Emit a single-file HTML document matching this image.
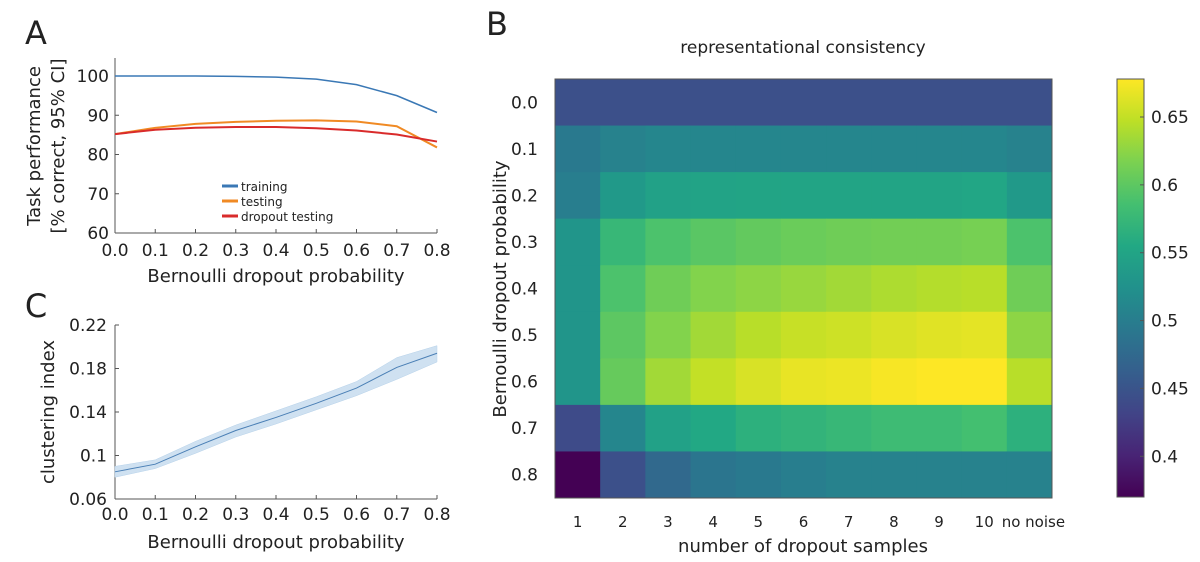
<!DOCTYPE html>
<html><head><meta charset="utf-8"><style>
body{margin:0;background:#fff;}
svg{display:block;font-family:"DejaVu Sans","Liberation Sans",sans-serif;}
</style></head><body>
<svg id="fig" width="1200" height="562" viewBox="0 0 1200 562"></svg>
<script>
const probs=[0,0.1,0.2,0.3,0.4,0.5,0.6,0.7,0.8];
const probLabels=["0.0","0.1","0.2","0.3","0.4","0.5","0.6","0.7","0.8"];
const trainVals=[100,100,100,99.9,99.7,99.2,97.8,95,90.7];
const testVals=[85.2,86.8,87.8,88.3,88.6,88.7,88.4,87.2,81.8];
const dropVals=[85.2,86.3,86.8,87.0,87.0,86.7,86.1,85.1,83.3];
const perfTicks=[60,70,80,90,100];
const clustVals=[0.085,0.092,0.108,0.123,0.135,0.148,0.162,0.181,0.194];
const clustLo=[0.080,0.088,0.102,0.117,0.129,0.142,0.155,0.170,0.186];
const clustHi=[0.090,0.096,0.113,0.128,0.141,0.154,0.168,0.190,0.201];
const clustTicks=[0.06,0.1,0.14,0.18,0.22];
const clustTickLabels=["0.06","0.1","0.14","0.18","0.22"];
const hmCols=["1","2","3","4","5","6","7","8","9","10","no noise"];
const hmRows=["0.0","0.1","0.2","0.3","0.4","0.5","0.6","0.7","0.8"];
const hmVals=[
[0.445,0.445,0.445,0.445,0.445,0.445,0.445,0.445,0.445,0.445,0.445],
[0.495,0.505,0.51,0.51,0.51,0.51,0.51,0.51,0.51,0.51,0.505],
[0.50,0.535,0.545,0.548,0.55,0.55,0.55,0.55,0.55,0.552,0.535],
[0.53,0.575,0.59,0.598,0.603,0.607,0.61,0.612,0.612,0.614,0.59],
[0.53,0.59,0.61,0.62,0.625,0.63,0.635,0.64,0.643,0.645,0.61],
[0.53,0.60,0.62,0.635,0.645,0.652,0.655,0.66,0.664,0.666,0.625],
[0.53,0.605,0.635,0.65,0.66,0.668,0.67,0.675,0.678,0.678,0.645],
[0.44,0.51,0.545,0.555,0.565,0.57,0.575,0.58,0.58,0.585,0.565],
[0.37,0.445,0.475,0.49,0.495,0.50,0.505,0.505,0.505,0.505,0.505]];
const cbTicks=[0.4,0.45,0.5,0.55,0.6,0.65];
const cbTickLabels=["0.4","0.45","0.5","0.55","0.6","0.65"];
const cMin=0.37,cMax=0.678;

const NS="http://www.w3.org/2000/svg";
const svg=document.getElementById('fig');
function el(tag,attrs,parent){const e=document.createElementNS(NS,tag);for(const k in attrs)e.setAttribute(k,attrs[k]);(parent||svg).appendChild(e);return e;}
function txt(s,x,y,size,anchor,parent,extra){const t=el('text',Object.assign({x:x,y:y,'font-size':size,'text-anchor':anchor||'middle',fill:'#222'},extra||{}),parent);t.textContent=s;return t;}
const VIR=[[68,1,84],[72,36,117],[65,68,135],[53,95,141],[42,120,142],[33,145,140],[34,168,132],[68,191,112],[122,209,81],[189,223,38],[253,231,37]];
function viridis(t){t=Math.max(0,Math.min(1,t))*10;const i=Math.min(9,Math.floor(t)),f=t-i;const a=VIR[i],b=VIR[i+1];return `rgb(${a.map((v,k)=>Math.round(v+(b[k]-v)*f)).join(',')})`;}

// ---------- Panel A ----------
const ax0=115,ax1=437;
const xA=p=>ax0+(p/0.8)*(ax1-ax0);
const yA=v=>233-(v-60)/40*(233-76);
const gA=el('g',{});

txt('A',36,44,32,'middle',gA,{});
el('line',{x1:ax0,y1:58,x2:ax0,y2:233,stroke:'#555','stroke-width':1},gA);
el('line',{x1:ax0,y1:233,x2:ax1,y2:233,stroke:'#555','stroke-width':1},gA);
perfTicks.forEach(v=>{el('line',{x1:ax0,y1:yA(v),x2:ax0+4,y2:yA(v),stroke:'#555'},gA);
 const t=txt(String(v),ax0-6,yA(v)+6,17,'end',gA);});
probs.forEach((p,i)=>{el('line',{x1:xA(p),y1:233,x2:xA(p),y2:229,stroke:'#555'},gA);
 const t=txt(probLabels[i],xA(p),256,17,'middle',gA);});
txt('Bernoulli dropout probability',276,282,18,'middle',gA,{});
txt('Task performance',40,146,18,'middle',gA,{transform:'rotate(-90 40 146)',});
txt('[% correct, 95% CI]',64,146,18,'middle',gA,{transform:'rotate(-90 64 146)',});
function line(vals,col,name,w){const p=el('polyline',{points:vals.map((v,i)=>xA(probs[i])+','+yA(v)).join(' '),fill:'none',stroke:col,'stroke-width':w||1.5},gA);
 }
line(trainVals,'#3a78b5','training-line');
line(testVals,'#f08a24','testing-line',2);
line(dropVals,'#d92b2b','dropout-testing-line',2);
const leg=[['training','#3a78b5'],['testing','#f08a24'],['dropout testing','#d92b2b']];
leg.forEach((l,i)=>{const g=el('g',{},gA);
 el('line',{x1:222,y1:186+i*15,x2:238,y2:186+i*15,stroke:l[1],'stroke-width':3},g);txt(l[0],241,191+i*15,12,'start',g);});

// ---------- Panel C ----------
const yC=v=>499-(v-0.06)/0.16*(499-325);
const gC=el('g',{});

txt('C',36,317,32,'middle',gC,{});
el('line',{x1:ax0,y1:325,x2:ax0,y2:499,stroke:'#555'},gC);
el('line',{x1:ax0,y1:499,x2:ax1,y2:499,stroke:'#555'},gC);
clustTicks.forEach((v,i)=>{el('line',{x1:ax0,y1:yC(v),x2:ax0+4,y2:yC(v),stroke:'#555'},gC);
 const t=txt(clustTickLabels[i],ax0-8,yC(v)+6,17,'end',gC);});
probs.forEach((p,i)=>{el('line',{x1:xA(p),y1:499,x2:xA(p),y2:495,stroke:'#555'},gC);
 const t=txt(probLabels[i],xA(p),520,17,'middle',gC);});
txt('Bernoulli dropout probability',276,548,18,'middle',gC,{});
txt('clustering index',54,412,18,'middle',gC,{transform:'rotate(-90 54 412)',});
const band=el('polygon',{points:clustHi.map((v,i)=>xA(probs[i])+','+yC(v)).concat(clustLo.map((v,i)=>xA(probs[i])+','+yC(v)).reverse()).join(' '),fill:'#cfe1f1',stroke:'#b7d2ea','stroke-width':0.5},gC);

const cl=el('polyline',{points:clustVals.map((v,i)=>xA(probs[i])+','+yC(v)).join(' '),fill:'none',stroke:'#4a7fb5','stroke-width':1},gC);


// ---------- Panel B ----------
const hx0=555,hx1=1052,hy0=79,hy1=498;
const cw=(hx1-hx0)/hmCols.length,rh=(hy1-hy0)/hmRows.length;
const gB=el('g',{});

txt('B',497,35,32,'middle',gB,{});
txt('representational consistency',803,53,17,'middle',gB,{});
hmVals.forEach((row,r)=>row.forEach((v,c)=>{
 const rc=el('rect',{x:hx0+c*cw,y:hy0+r*rh,width:cw+0.5,height:rh+0.5,fill:viridis((v-cMin)/(cMax-cMin))},gB);
 }));
el('rect',{x:hx0,y:hy0,width:hx1-hx0,height:hy1-hy0,fill:'none',stroke:'#555','stroke-width':1},gB);
hmRows.forEach((s,r)=>{const t=txt(s,538,hy0+(r+0.5)*rh+6,17,'end',gB);});
hmCols.forEach((s,c)=>{const t=txt(s,hx0+(c+0.5)*cw+(c==10?4:0),527,15,'middle',gB);});
txt('number of dropout samples',803,552,18,'middle',gB,{});
txt('Bernoulli dropout probability',506,289,18,'middle',gB,{transform:'rotate(-90 506 289)',});
// colorbar
const cbx=1117,cbw=27,cby0=79,cby1=497;
const defs=el('defs',{});
const lg=el('linearGradient',{id:'vg',x1:0,y1:1,x2:0,y2:0},defs);
VIR.forEach((c,i)=>el('stop',{offset:(i/10),'stop-color':`rgb(${c.join(',')})`},lg));
const cb=el('rect',{x:cbx,y:cby0,width:cbw,height:cby1-cby0,fill:'url(#vg)',stroke:'#555','stroke-width':1},gB);

const yCB=v=>cby1-(v-cMin)/(cMax-cMin)*(cby1-cby0);
cbTicks.forEach((v,i)=>{el('line',{x1:cbx+cbw-4,y1:yCB(v),x2:cbx+cbw,y2:yCB(v),stroke:'#555'},gB);
 const t=txt(cbTickLabels[i],cbx+cbw+7,yCB(v)+6,17,'start',gB);});
</script>
</body></html>
